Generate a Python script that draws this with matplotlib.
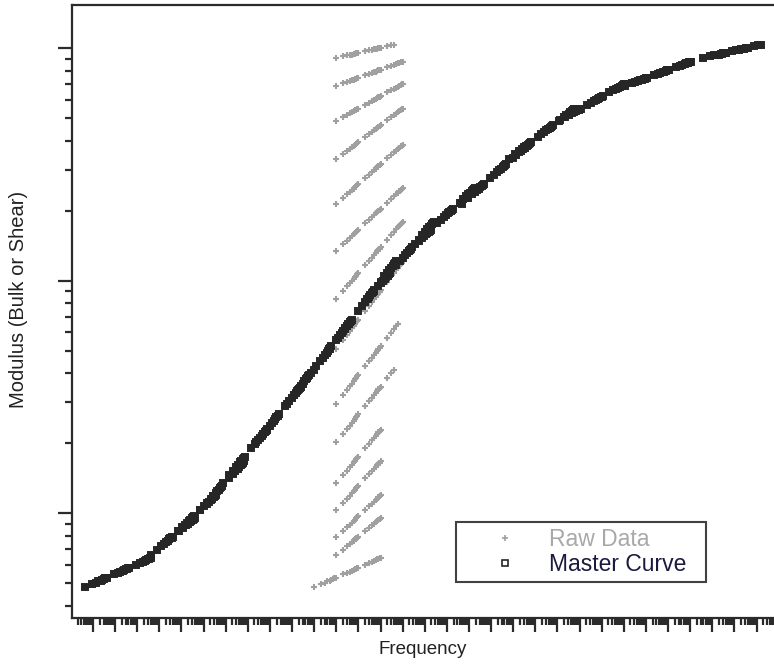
import matplotlib
matplotlib.use("Agg")
import matplotlib.pyplot as plt
import numpy as np
from matplotlib.ticker import LogLocator, NullFormatter

plt.rcParams['font.family'] = ['Liberation Sans', 'DejaVu Sans']

# raw frequency grid of one sweep (multiples of the first frequency)
freq_grid = [1, 2, 3, 4, 5, 6, 7, 8, 9,
             10, 20, 30, 40, 50, 60, 70, 80, 90,
             100, 200, 300, 400, 500, 600, 700, 800, 900, 1000]

# first frequency of each isotherm (log10) and shift factor log10(aT)
start_decade = [11, 11, 11, 11, 11, 11, 11, 11, 11, 11, 11, 11, 11, 11, 10]
log_shift = [16.6, 13.05, 10.05, 7.8, 5.67, 3.27, 1.42, -0.30,
             -2.22, -3.61, -5.14, -6.16, -7.45, -8.4, -10.36]

# log10 modulus of each isotherm, coldest first
t01 = [2.957, 2.964, 2.968, 2.970, 2.972, 2.974, 2.976, 2.977, 2.978, 2.979, 2.986,
       2.990, 2.992, 2.994, 2.996, 2.998, 2.999, 3.000, 3.001, 3.008, 3.012, 3.014]
t02 = [2.837, 2.848, 2.854, 2.858, 2.862, 2.864, 2.867, 2.869, 2.870, 2.872, 2.883, 2.889,
       2.893, 2.897, 2.899, 2.902, 2.904, 2.905, 2.907, 2.918, 2.924, 2.928, 2.932, 2.934,
       2.937, 2.939, 2.940, 2.942]
t03 = [2.687, 2.703, 2.712, 2.719, 2.724, 2.728, 2.732, 2.735, 2.738, 2.740, 2.756, 2.765,
       2.772, 2.777, 2.781, 2.785, 2.788, 2.791, 2.793, 2.809, 2.818, 2.825, 2.830, 2.834,
       2.838, 2.841, 2.844, 2.846]
t04 = [2.524, 2.546, 2.558, 2.567, 2.574, 2.580, 2.585, 2.589, 2.593, 2.596, 2.618, 2.630,
       2.639, 2.646, 2.652, 2.657, 2.661, 2.665, 2.668, 2.690, 2.702, 2.711, 2.718, 2.724,
       2.729, 2.733, 2.737, 2.740]
t05 = [2.330, 2.356, 2.371, 2.381, 2.389, 2.396, 2.402, 2.407, 2.411, 2.415, 2.441, 2.456,
       2.466, 2.474, 2.481, 2.487, 2.492, 2.496, 2.500, 2.526, 2.541, 2.551, 2.559, 2.566,
       2.572, 2.577, 2.581, 2.585]
t06 = [2.129, 2.156, 2.172, 2.183, 2.192, 2.199, 2.205, 2.210, 2.215, 2.219, 2.246, 2.262,
       2.273, 2.282, 2.289, 2.295, 2.300, 2.305, 2.309, 2.336, 2.352, 2.363, 2.372, 2.379,
       2.385, 2.390, 2.395, 2.399]
t07 = [1.923, 1.956, 1.976, 1.989, 2.000, 2.009, 2.016, 2.022, 2.028, 2.033, 2.066, 2.086,
       2.099, 2.110, 2.119, 2.126, 2.132, 2.138, 2.143, 2.176, 2.196, 2.209, 2.220, 2.229,
       2.236, 2.242, 2.248, 2.253]
t08 = [1.708, 1.746, 1.768, 1.783, 1.795, 1.805, 1.814, 1.821, 1.827, 1.833, 1.871, 1.893,
       1.908, 1.920, 1.930, 1.939, 1.946, 1.952, 1.958, 1.996, 2.018, 2.033, 2.045, 2.055,
       2.064, 2.071, 2.077, 2.083]
t09 = [1.472, 1.509, 1.531, 1.546, 1.558, 1.568, 1.576, 1.583, 1.589, 1.595, 1.632, 1.654,
       1.669, 1.681, 1.691, 1.699, 1.706, 1.712, 1.718, 1.755, 1.777, 1.792, 1.804, 1.814]
t10 = [1.305, 1.341, 1.362, 1.377, 1.389, 1.398, 1.406, 1.413, 1.420, 1.425, 1.461,
       1.482, 1.497, 1.509, 1.518, 1.526, 1.533, 1.540, 1.545, 1.581, 1.602, 1.617]
t11 = [1.129, 1.164, 1.184, 1.198, 1.209, 1.219, 1.226, 1.233, 1.239, 1.244,
       1.279, 1.299, 1.313, 1.324, 1.334, 1.341, 1.348, 1.354, 1.359]
t12 = [1.013, 1.045, 1.063, 1.076, 1.086, 1.095, 1.102, 1.108, 1.113, 1.118,
       1.150, 1.168, 1.181, 1.191, 1.200, 1.207, 1.213, 1.218, 1.223]
t13 = [0.897, 0.924, 0.940, 0.951, 0.960, 0.967, 0.973, 0.978, 0.983, 0.987,
       1.014, 1.030, 1.041, 1.050, 1.057, 1.063, 1.068, 1.073, 1.077]
t14 = [0.820, 0.844, 0.858, 0.868, 0.876, 0.882, 0.888, 0.892, 0.896, 0.900,
       0.924, 0.938, 0.948, 0.956, 0.962, 0.968, 0.972, 0.976, 0.980]
t15 = [0.682, 0.695, 0.702, 0.707, 0.711, 0.715, 0.718, 0.720, 0.722, 0.724, 0.737, 0.744,
       0.749, 0.753, 0.757, 0.760, 0.762, 0.764, 0.766, 0.779, 0.786, 0.791, 0.795, 0.799,
       0.802, 0.804, 0.806, 0.808]
isotherms = [t01, t02, t03, t04, t05, t06, t07, t08, t09, t10, t11, t12, t13, t14, t15]

raw_color = '#a0a0a0'
master_color = '#262626'
axis_color = '#2b2b2b'

fig = plt.figure(figsize=(7.74, 6.65), dpi=100)
ax = fig.add_axes([72 / 774, 47 / 665, 702 / 774, 613 / 665])

for i, logg in enumerate(isotherms):
    f = np.array(freq_grid[:len(logg)]) * 10.0 ** start_decade[i]
    g = 10.0 ** np.array(logg)
    ax.plot(f, g, '+', color=raw_color, ms=4.5, mew=1.5, zorder=2,
            label='Raw Data' if i == 0 else None)
    ax.plot(f * 10.0 ** log_shift[i], g, 's', ms=4.8, mfc=master_color, mec=master_color,
            mew=1.4, zorder=3, label='Master Curve' if i == 0 else None)

ax.set_xscale('log')
ax.set_yscale('log')
ax.set_xlim(10 ** -0.95, 10 ** 30.79)
ax.set_ylim(10 ** 0.55, 10 ** 3.185)

for axis in (ax.xaxis, ax.yaxis):
    axis.set_major_locator(LogLocator(base=10, numticks=100))
    axis.set_minor_locator(LogLocator(base=10, subs=np.arange(2, 10), numticks=100))
    axis.set_major_formatter(NullFormatter())
    axis.set_minor_formatter(NullFormatter())

ax.tick_params(which='major', direction='out', length=10, width=1.6, color=axis_color)
ax.tick_params(which='minor', direction='out', length=5, width=1.6, color=axis_color)
for side in ('left', 'bottom', 'top'):
    ax.spines[side].set_linewidth(1.6)
    ax.spines[side].set_color(axis_color)
ax.spines['right'].set_visible(False)

ax.set_xlabel('Frequency', fontsize=13.5, color='#222222')
ax.set_ylabel('Modulus (Bulk or Shear)', fontsize=14.5, color='#222222')
ax.xaxis.set_label_coords(0.5, -0.038)
ax.yaxis.set_label_coords(-0.062, 0.52)

leg = ax.legend(loc='lower left', bbox_to_anchor=(0.547, 0.0587, 0.356, 0.125), mode='expand',
                fontsize=16.5, frameon=True, fancybox=False, borderaxespad=0,
                handlelength=3.8, handletextpad=0.0, borderpad=0.25, labelspacing=0.1,
                numpoints=1)
leg.get_frame().set_edgecolor('#111111')
leg.get_frame().set_linewidth(1.5)
leg.get_texts()[0].set_color('#a8a8a8')
leg.get_texts()[1].set_color('#1a1a40')
for h in leg.legend_handles:
    h.set_markersize(4)
    h.set_markeredgewidth(1.2)
leg.legend_handles[1].set_markerfacecolor('white')

fig.savefig('out.png', dpi=100)
